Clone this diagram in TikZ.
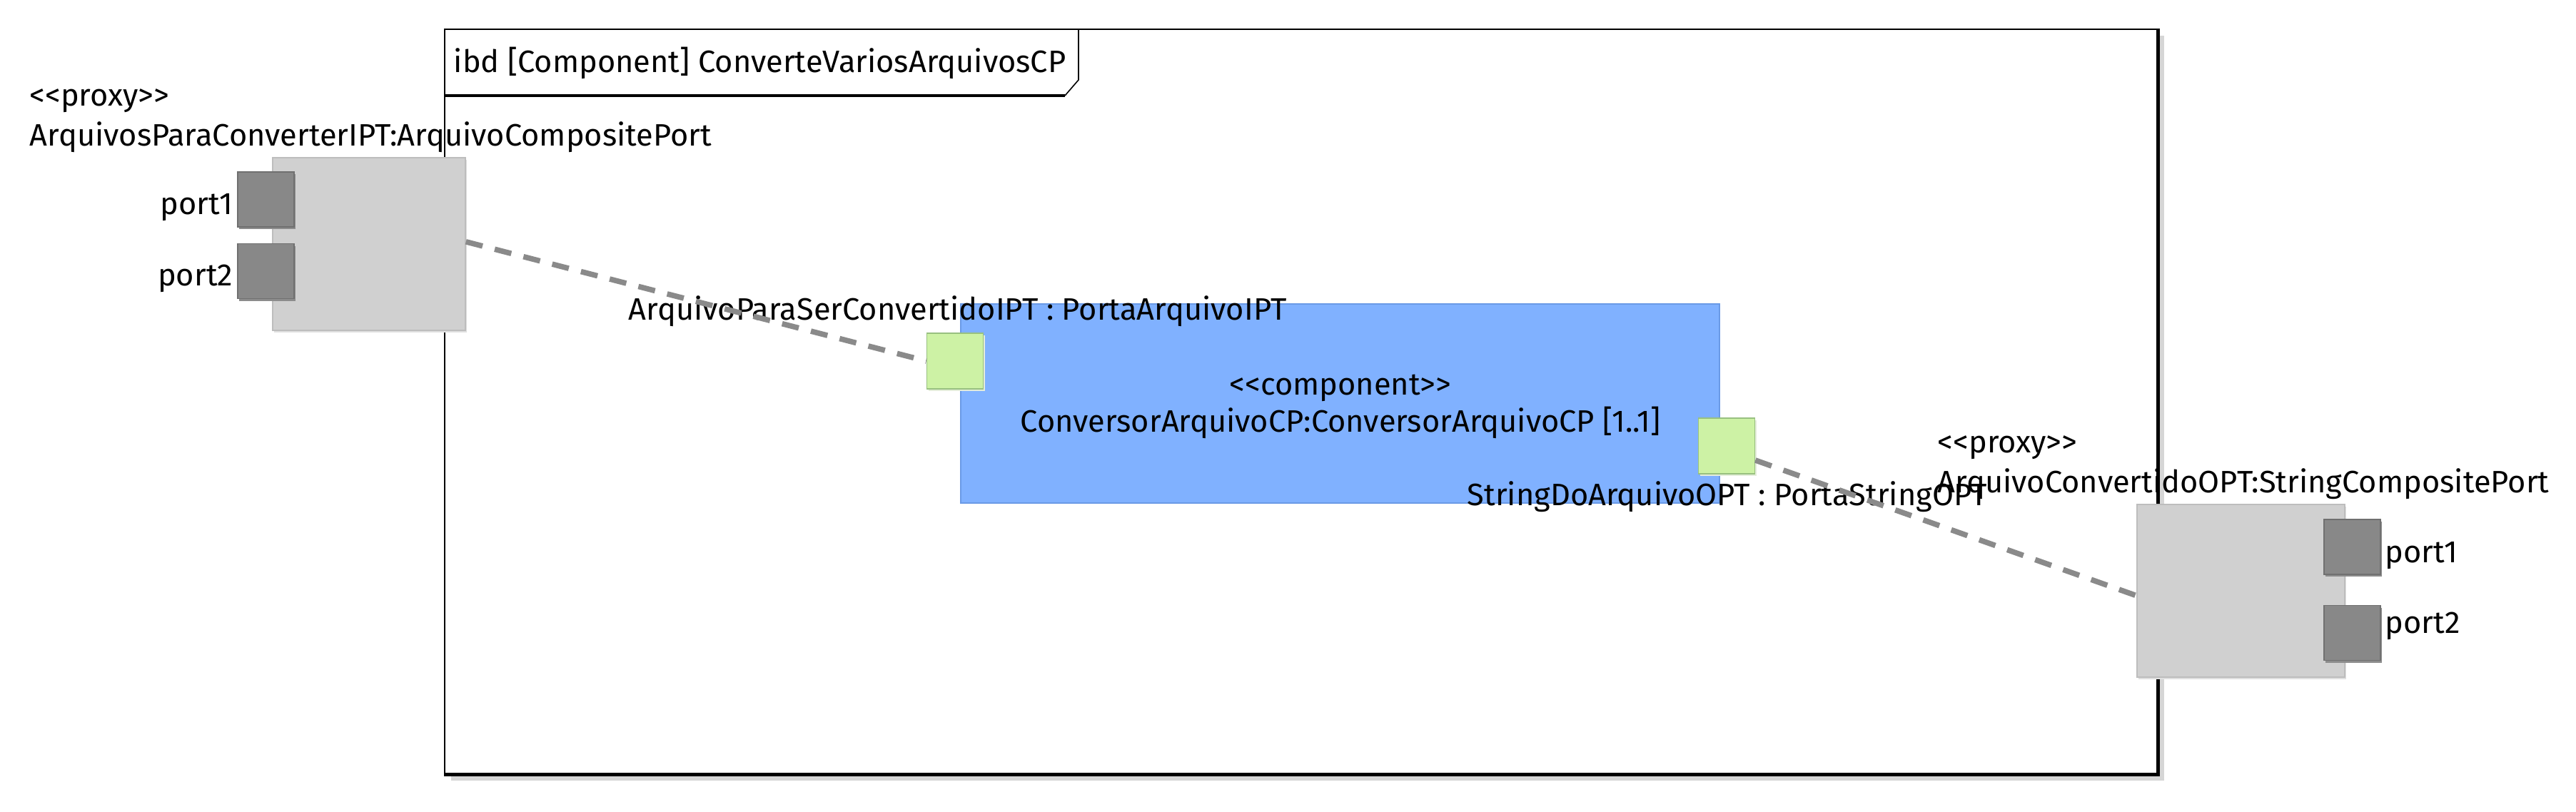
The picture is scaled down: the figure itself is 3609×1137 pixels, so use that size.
\documentclass[tikz,border=0pt]{standalone}
\usepackage{fontspec}
\setmainfont{Fira Sans}
\usetikzlibrary{shadows}
\definecolor{proxygray}{HTML}{D0D0D0}
\definecolor{proxyline}{HTML}{BDBDBD}
\definecolor{portgray}{HTML}{888888}
\definecolor{portline}{HTML}{707070}
\definecolor{compblue}{HTML}{80B1FF}
\definecolor{compline}{HTML}{6A9AE6}
\definecolor{pingreen}{HTML}{CDF2A5}
\definecolor{pinline}{HTML}{98C080}
\definecolor{connline}{HTML}{8A8A8A}
\begin{document}
\begin{tikzpicture}[x=0.25pt, y=-0.25pt, font=\fontsize{10.85}{13}\selectfont]
  \tikzstyle{frame}=[draw=black, line width=0.4pt, fill=white, inner sep=0pt,
    minimum width=600pt, minimum height=261pt,
    drop shadow={shadow xshift=2.2pt, shadow yshift=-2.2pt, fill=black!16, opacity=1}]
  \tikzstyle{proxy}=[draw=proxyline, fill=proxygray, inner sep=0pt,
    drop shadow={shadow xshift=0.6pt, shadow yshift=-0.8pt, fill=black!12, opacity=1}]
  \tikzstyle{port}=[draw=portline, fill=portgray, inner sep=0pt,
    minimum width=19.75pt, minimum height=19.25pt,
    drop shadow={shadow xshift=0.5pt, shadow yshift=-0.8pt, fill=black!45, opacity=1}]
  \tikzstyle{comp}=[draw=compline, fill=compblue, inner sep=0pt,
    minimum width=265.75pt, minimum height=69.75pt]
  \tikzstyle{pin}=[draw=pinline, fill=pingreen, inner sep=0pt,
    minimum width=19.75pt, minimum height=19.5pt,
    drop shadow={shadow xshift=0.6pt, shadow yshift=-0.8pt, fill=pingreen!80!black!30, opacity=1}]
  \tikzstyle{label}=[inner sep=0pt]
  \tikzstyle{conn}=[draw=connline, line width=1.9pt, dash pattern=on 6pt off 4.4pt]

  \useasboundingbox (0,0) rectangle (3609,1137);

  % frame of the ibd
  \node[frame] (frame) at (1823,563) {};
  \draw[line width=1.2pt] (frame.north east) -- (frame.south east) -- (frame.south west);
  \draw[line width=0.4pt] (1511,41) -- (1511,112) -- (1492,134);
  \draw[line width=0.9pt] (1492,134) -- (623,134);
  \node[label, anchor=base west] (title) at (635,101) {ibd [Component] ConverteVariosArquivosCP};

  % input proxy port
  \node[proxy, minimum width=67.5pt, minimum height=60.5pt] (inproxy) at (517,342) {};
  \node[port] (inport1) at (372.5,279.5) {};
  \node[port] (inport2) at (372.5,380) {};
  \node[label, anchor=base east] (inport1lbl) at (327,300) {port1};
  \node[label, anchor=base east] (inport2lbl) at (327,400) {port2};
  \node[label, anchor=base west] (instereo) at (41,148) {<{}<proxy>{}>};
  \node[label, anchor=base west] (inname) at (41,204) {ArquivosParaConverterIPT:ArquivoCompositePort};

  % component
  \node[comp] (conversor) at (1877.5,565.5) {};
  \node[label, anchor=base] (compstereo) at (1878,553) {<{}<component>{}>};
  \node[label, anchor=base] (compname) at (1878,605) {ConversorArquivoCP:ConversorArquivoCP [1..1]};
  \node[pin] (inpin) at (1338,506) {};
  \node[pin] (outpin) at (2419,625) {};
  \node[label, anchor=base west] (inpinlbl) at (880,448) {ArquivoParaSerConvertidoIPT : PortaArquivoIPT};
  \node[label, anchor=base west] (outpinlbl) at (2055,708) {StringDoArquivoOPT : PortaStringOPT};

  % output proxy port
  \node[proxy, minimum width=72.75pt, minimum height=60.5pt] (outproxy) at (3139.5,828) {};
  \node[port] (outport1) at (3295.5,766.5) {};
  \node[port] (outport2) at (3295.5,887) {};
  \node[label, anchor=base west] (outport1lbl) at (3341,788) {port1};
  \node[label, anchor=base west] (outport2lbl) at (3341,887) {port2};
  \node[label, anchor=base west] (outstereo) at (2714,634) {<{}<proxy>{}>};
  \node[label, anchor=base west] (outname) at (2714,690) {ArquivoConvertidoOPT:StringCompositePort};

  \path[conn] ([yshift=0.8pt]inproxy.east) edge (inpin.west);
  \path[conn] ([yshift=-5pt]outpin.east) edge ([yshift=-1.7pt]outproxy.west);
\end{tikzpicture}
\end{document}
